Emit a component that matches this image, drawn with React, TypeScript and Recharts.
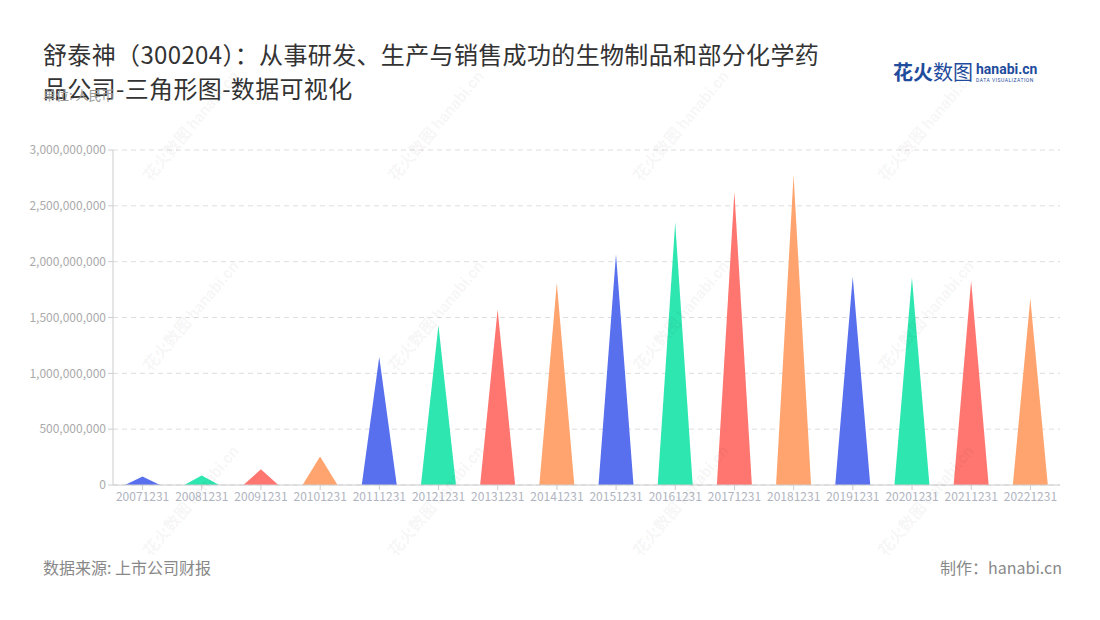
import React from 'react';
import { BarChart, Bar, XAxis, YAxis, CartesianGrid, Cell } from 'recharts';

const categories = ['20071231','20081231','20091231','20101231','20111231','20121231','20131231','20141231','20151231','20161231','20171231','20181231','20191231','20201231','20211231','20221231'];
const values = [77000000, 86000000, 140000000, 256000000, 1146000000, 1430000000, 1571000000, 1810000000, 2067000000, 2350000000, 2626000000, 2776000000, 1864000000, 1858000000, 1828000000, 1670000000];
const yTicks = [0, 500000000, 1000000000, 1500000000, 2000000000, 2500000000, 3000000000];
const palette = ['#5870EE', '#2EE6B0', '#FF7670', '#FFA46E'];

const data = categories.map((c, i) => ({ name: c, value: values[i] }));

const FONT = '"Noto Sans CJK SC", "Noto Sans", sans-serif';

const Triangle = (props: any) => {
  const { x, y, width, height, fill } = props;
  if (!height || height <= 0) return null;
  const d = `M${x},${y + height} L${x + width / 2},${y} L${x + width},${y + height} Z`;
  return <path d={d} fill={fill} />;
};

const fmt = (v: number) => v.toLocaleString('en-US');

const marks = [
  [190, 125], [435, 125], [680, 125], [925, 125],
  [190, 315], [435, 315], [680, 315], [925, 315],
  [190, 500], [435, 500], [680, 500], [925, 500],
];

export default function App() {
  return (
    <div style={{ position: 'absolute', left: 0, top: 0, width: 1100, height: 620, background: '#fff', fontFamily: FONT, overflow: 'hidden' }}>
      <div style={{ position: 'absolute', left: 43, top: 37, fontSize: 24, lineHeight: '34px', color: '#333', whiteSpace: 'nowrap', letterSpacing: 0.35 }}>
        <div>舒泰神（300204）：从事研发、生产与销售成功的生物制品和部分化学药</div>
        <div>品公司-三角形图-数据可视化</div>
      </div>
      <div style={{ position: 'absolute', left: 43, top: 85, fontSize: 13, color: '#999', whiteSpace: 'nowrap' }}>单位: 人民币</div>

      <div style={{ position: 'absolute', left: 893, top: 58, whiteSpace: 'nowrap', display: 'flex', alignItems: 'flex-start' }}>
        <span style={{ fontSize: 20, fontWeight: 700, color: '#1F4C9C', lineHeight: '28px' }}>花火<span style={{ fontWeight: 400 }}>数图</span></span>
        <div style={{ marginLeft: 3, marginTop: 3 }}>
          <div style={{ fontSize: 14, fontWeight: 700, color: '#1F4C9C', lineHeight: '16px', fontFamily: 'Roboto, sans-serif' }}>hanabi.cn</div>
          <div style={{ fontSize: 5, color: '#1F4C9C', lineHeight: '6px', letterSpacing: 0.5, fontFamily: 'Roboto, sans-serif' }}>DATA VISUALIZATION</div>
        </div>
      </div>

      <BarChart width={1100} height={620} data={data} margin={{ top: 150, right: 40, left: 33, bottom: 105 }}>
        <CartesianGrid vertical={false} stroke="#dddddd" strokeDasharray="5 4" />
        <XAxis
          dataKey="name"
          interval={0}
          axisLine={{ stroke: '#cccccc' }}
          tickLine={{ stroke: '#cccccc' }}
          tick={{ fill: '#b0b4c0', fontSize: 12, fontFamily: FONT }}
          tickSize={5}
          height={30}
        />
        <YAxis
          domain={[0, 3000000000]}
          ticks={yTicks}
          tickFormatter={fmt}
          axisLine={{ stroke: '#cccccc' }}
          tickLine={{ stroke: '#cccccc' }}
          tick={{ fill: '#aaaaaa', fontSize: 12, fontFamily: FONT }}
          tickSize={5}
          width={80}
        />
        <Bar dataKey="value" barSize={35} shape={<Triangle />} isAnimationActive={false}>
          {data.map((d, i) => (
            <Cell key={d.name} fill={palette[i % palette.length]} />
          ))}
        </Bar>
      </BarChart>

      {marks.map(([cx, cy], i) => (
        <div key={i} style={{ position: 'absolute', left: cx - 70, top: cy - 12, width: 140, textAlign: 'center', transform: 'rotate(-50deg)', fontSize: 16, fontWeight: 700, color: 'rgba(0,0,0,0.055)', whiteSpace: 'nowrap', pointerEvents: 'none' }}>
          花火数图 <span style={{ fontFamily: 'Roboto, sans-serif' }}>hanabi.cn</span>
        </div>
      ))}

      <div style={{ position: 'absolute', left: 43, top: 555, fontSize: 16, color: '#888', whiteSpace: 'nowrap' }}>数据来源: 上市公司财报</div>
      <div style={{ position: 'absolute', right: 38, top: 555, fontSize: 16, color: '#888', whiteSpace: 'nowrap' }}>制作：hanabi.cn</div>
    </div>
  );
}
